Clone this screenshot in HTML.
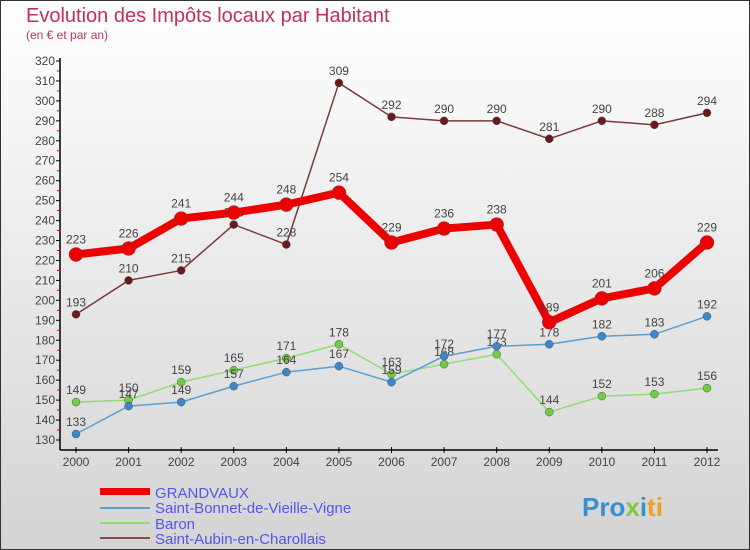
<!DOCTYPE html>
<html><head><meta charset="utf-8"><style>
body{margin:0;}
#c{width:750px;height:550px;position:relative;overflow:hidden;font-family:"Liberation Sans",sans-serif;}
svg text{font-family:"Liberation Sans",sans-serif;}
</style></head><body>
<div id="c">
<svg id="s" width="750" height="550" xmlns="http://www.w3.org/2000/svg">
<defs><linearGradient id="bg" x1="0" y1="0" x2="0" y2="1"><stop offset="0" stop-color="#ffffff"/><stop offset="1" stop-color="#d4d4d4"/></linearGradient></defs>
<rect x="0.5" y="0.5" width="749" height="549" fill="url(#bg)" stroke="#333"/>
<text x="26" y="22" font-size="20" fill="#c2305a">Evolution des Impôts locaux par Habitant</text>
<text x="26" y="39" font-size="12" fill="#c2305a">(en € et par an)</text>
<g id="axes"></g>
<g id="series"></g>
<g>
<rect x="100" y="488" width="50" height="7" fill="#ee0000"/>
<text x="155" y="498" font-size="15" fill="#5555ee">GRANDVAUX</text>
<line x1="100" y1="508" x2="150" y2="508" stroke="#5a9fd4" stroke-width="2"/>
<text x="155" y="513" font-size="15" fill="#5555ee">Saint-Bonnet-de-Vieille-Vigne</text>
<line x1="100" y1="523" x2="150" y2="523" stroke="#90dd70" stroke-width="2"/>
<text x="155" y="529" font-size="15" fill="#5555ee">Baron</text>
<line x1="100" y1="538" x2="150" y2="538" stroke="#8a4a4a" stroke-width="2"/>
<text x="155" y="544" font-size="15" fill="#5555ee">Saint-Aubin-en-Charollais</text>
</g>
<text x="582" y="516" font-size="26" font-weight="bold" fill="#f0a020"><tspan fill="#3a8fd0">Pro</tspan><tspan fill="#80c840">x</tspan><tspan fill="#3a8fd0">i</tspan><tspan fill="#f0a020">ti</tspan></text>
</svg>
</div>
<script>
const years=[2000,2001,2002,2003,2004,2005,2006,2007,2008,2009,2010,2011,2012];
const grandvaux=[223,226,241,244,248,254,229,236,238,189,201,206,229];
const saintBonnet=[133,147,149,157,164,167,159,172,177,178,182,183,192];
const baron=[149,150,159,165,171,178,163,168,173,144,152,153,156];
const saintAubin=[193,210,215,238,228,309,292,290,290,281,290,288,294];
const yTicks=[130,140,150,160,170,180,190,200,210,220,230,240,250,260,270,280,290,300,310,320];
const NS="http://www.w3.org/2000/svg";
function x(i){return 76+i*(707-76)/(years.length-1);}
function y(v){return 440-(v-130)*(440-61)/190;}
function mk(t,a,p){const e=document.createElementNS(NS,t);for(const k in a)e.setAttribute(k,a[k]);p.appendChild(e);return e;}
const ax=document.getElementById('axes');
const yl=mk('line',{x1:60,y1:58,x2:60,y2:450,stroke:'#000','stroke-width':1.5},ax);


const xl=mk('line',{x1:60,y1:450,x2:718,y2:450,stroke:'#000','stroke-width':1.5},ax);


yTicks.forEach((v,i)=>{
  mk('line',{x1:56,y1:y(v),x2:60,y2:y(v),stroke:'#000'},ax);
  if(i<yTicks.length-1)mk('line',{x1:57,y1:y(v+5),x2:60,y2:y(v+5),stroke:'#e00'},ax);
  const t=mk('text',{x:55,y:y(v)+4,'font-size':12,'text-anchor':'end',fill:'#444'},ax);
  t.textContent=v;
  
  
});
years.forEach((yr,i)=>{
  mk('line',{x1:x(i),y1:447,x2:x(i),y2:453,stroke:'#000'},ax);
  const t=mk('text',{x:x(i),y:466,'font-size':12,'text-anchor':'middle',fill:'#444'},ax);
  t.textContent=yr;
  
  
});
const sg=document.getElementById('series');
function series(data,name,color,dot,w,r){
  const g=mk('g',{},sg);
  
  
  const pl=mk('polyline',{points:data.map((v,i)=>x(i)+','+y(v)).join(' '),fill:'none',stroke:color,'stroke-width':w,'stroke-linejoin':'round'},g);
  
  
  data.forEach((v,i)=>{
    const c=mk('circle',{cx:x(i),cy:y(v),r:r,fill:dot,stroke:'#555','stroke-width':0.5},g);
    
    
    const t=mk('text',{x:x(i),y:y(v)-r-4,'font-size':12,'text-anchor':'middle',fill:'#444'},g);
    t.textContent=v;
    
    
  });
}
series(saintAubin,'saint-aubin','#7a3a3a','#6a1a1a',1.5,4);
series(baron,'baron','#90dd70','#70cc40',1.5,4);
series(saintBonnet,'saint-bonnet','#5a9fd4','#3a88cc',1.5,4);
series(grandvaux,'grandvaux','#ee0000','#ee0000',8,7);
</script>
</body></html>
